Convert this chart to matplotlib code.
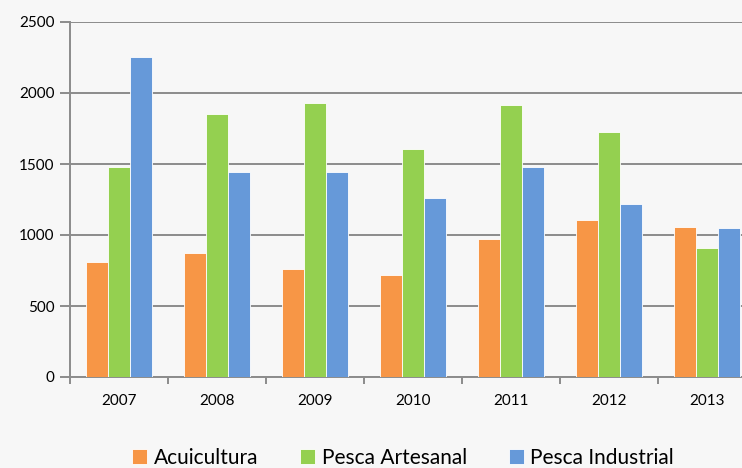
import matplotlib.pyplot as plt
import numpy as np

years = ['2007', '2008', '2009', '2010', '2011', '2012', '2013']
acuicultura = [810, 874, 763, 717, 975, 1104, 1059]
pesca_artesanal = [1482, 1853, 1929, 1605, 1917, 1724, 911]
pesca_industrial = [2250, 1447, 1447, 1261, 1482, 1217, 1050]

series = [
    ('Acuicultura', acuicultura, '#F79646'),
    ('Pesca Artesanal', pesca_artesanal, '#94D050'),
    ('Pesca Industrial', pesca_industrial, '#6699D9'),
]

plt.rcParams['font.family'] = ['Lato', 'DejaVu Sans']

bg = '#F7F7F7'
fig = plt.figure(figsize=(7.42, 4.68), dpi=100, facecolor=bg)
# axes runs past the right edge of the figure, as in the original
ax = fig.add_axes([70 / 742, 91 / 468, 686 / 742, 355 / 468], facecolor=bg)

x = np.arange(len(years))
w = 0.225
for i, (name, vals, col) in enumerate(series):
    ax.bar(x + (i - 1) * w, vals, w, color=col, label=name,
           edgecolor='#FFFFFF', linewidth=0.6, zorder=3)

ax.set_xlim(-0.5, len(years) - 0.5)
ax.set_ylim(0, 2500)
ax.set_yticks(range(0, 2501, 500))
ax.yaxis.grid(True, color='#8C8C8C', linewidth=1.4, zorder=0)

for s in ['top', 'right']:
    ax.spines[s].set_visible(False)
for s in ['left', 'bottom']:
    ax.spines[s].set_color('#8C8C8C')
    ax.spines[s].set_linewidth(1.4)

ax.set_xticks(x)
ax.set_xticklabels(years)
ax.set_xticks(np.arange(-0.5, len(years), 1), minor=True)
ax.tick_params(axis='x', which='major', length=0, pad=12, labelsize=11)
ax.tick_params(axis='x', which='minor', length=5, width=1.4, color='#8C8C8C', direction='out')
ax.tick_params(axis='y', length=7, width=1.4, color='#8C8C8C', labelsize=11, pad=4)

fig.legend(loc='center', bbox_to_anchor=(0.543, 10 / 468), ncol=3, frameon=False,
           fontsize=15, handlelength=0.75, handleheight=0.75, handletextpad=0.3,
           columnspacing=2.0)

fig.savefig('out.png', dpi=100, facecolor=bg)
